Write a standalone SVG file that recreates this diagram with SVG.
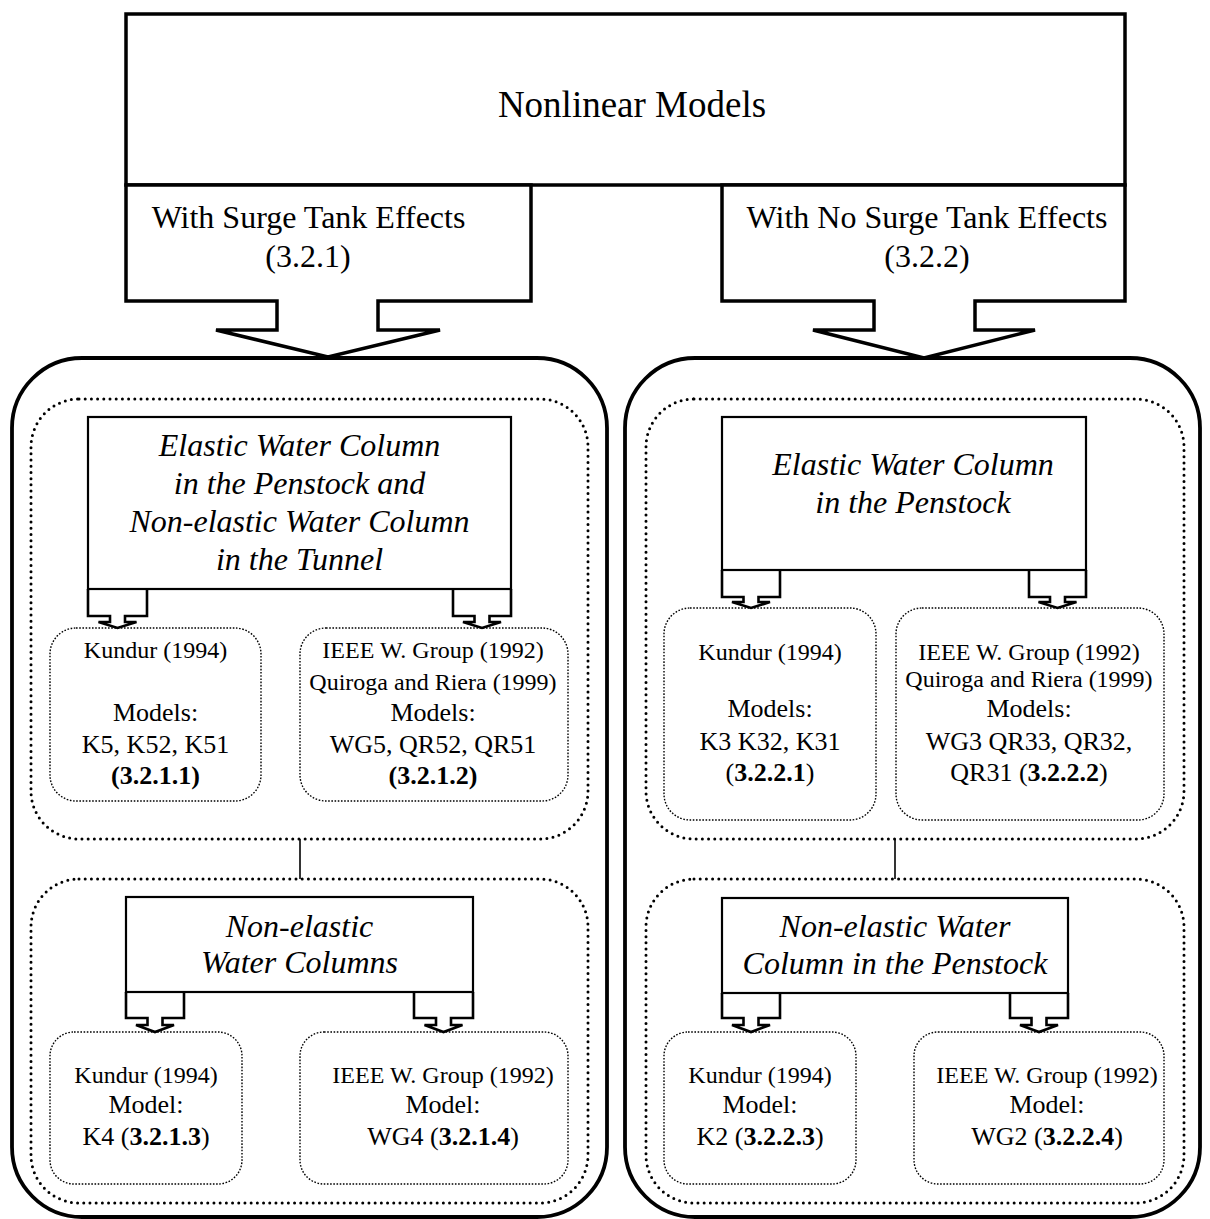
<svg xmlns="http://www.w3.org/2000/svg" width="1210" height="1219" viewBox="0 0 1210 1219">
<style>
text{font-family:"Liberation Serif","Times New Roman",serif;fill:#000;text-anchor:middle}
.thick{fill:#fff;stroke:#000;stroke-width:3.5}
.outer{fill:none;stroke:#000;stroke-width:3.8}
.box{fill:#fff;stroke:#000;stroke-width:2.2}
.cont{fill:none;stroke:#000;stroke-width:3;stroke-dasharray:0 6.2;stroke-linecap:round}
.leaf{fill:none;stroke:#000;stroke-width:1.4;stroke-dasharray:1.6 1.6}
.arr{fill:#fff;stroke:#000;stroke-width:2.6;stroke-linejoin:miter}
.conn{stroke:#000;stroke-width:1.6;fill:none}
.h1{font-size:37px}
.h2{font-size:32px}
.it{font-size:32px;font-style:italic}
.cit{font-size:24px}
.m{font-size:26px}
.b{font-weight:bold}
</style>

<g id="top">
<rect class="thick" x="126" y="14" width="999" height="171"/>
<text class="h1" x="632" y="117">Nonlinear Models</text>
</g>

<g id="with-surge">
<path class="thick" d="M126,185 H531 V301 H378 V330 H440 L328,357 L216,330 H277 V301 H126 Z"/>
<text class="h2" x="308.5" y="228">With Surge Tank Effects</text>
<text class="h2" x="308" y="267">(3.2.1)</text>
</g>

<g id="no-surge">
<path class="thick" d="M722,185 H1125 V301 H975 V330 H1035 L924,358 L813,330 H874 V301 H722 Z"/>
<text class="h2" x="927" y="228">With No Surge Tank Effects</text>
<text class="h2" x="927" y="267">(3.2.2)</text>
</g>

<g id="left-group">
<rect class="outer" x="12" y="358" width="595" height="859" rx="70" ry="70"/>
</g>
<g id="right-group">
<rect class="outer" x="625" y="358" width="575" height="859" rx="70" ry="70"/>
</g>

<g id="left-upper-container">
<rect class="cont" x="31" y="399" width="557" height="440" rx="48" ry="48"/>
</g>
<g id="left-lower-container">
<rect class="cont" x="31" y="879" width="557" height="324" rx="48" ry="48"/>
</g>
<g id="right-upper-container">
<rect class="cont" x="646" y="399" width="538" height="440" rx="48" ry="48"/>
</g>
<g id="right-lower-container">
<rect class="cont" x="646" y="879" width="538" height="324" rx="48" ry="48"/>
</g>

<g id="connectors">
<line class="conn" x1="300" y1="839" x2="300" y2="879"/>
<line class="conn" x1="895" y1="839" x2="895" y2="879"/>
<path class="arr" d="M88,589 V616 H110 V622 H98.5 L117.5,628 L136.5,622 H125 V616 H147 V589"/>
<path class="arr" d="M453,589 V616 H474.5 V622 H463 L482,628 L501,622 H489.5 V616 H511 V589"/>
<path class="arr" d="M722,570 V597 H743.5 V602 H732 L751,608 L770,602 H758.5 V597 H780 V570"/>
<path class="arr" d="M1029,570 V597 H1050 V602 H1038.5 L1057.5,608 L1076.5,602 H1065 V597 H1086 V570"/>
<path class="arr" d="M126,992 V1018 H147.5 V1025 H136 L155,1032 L174,1025 H162.5 V1018 H184 V992"/>
<path class="arr" d="M414,992 V1018 H436 V1025 H424.5 L443.5,1032 L462.5,1025 H451 V1018 H473 V992"/>
<path class="arr" d="M722,993 V1018 H743.5 V1025 H732 L751,1032 L770,1025 H758.5 V1018 H780 V993"/>
<path class="arr" d="M1010,993 V1018 H1031.5 V1025 H1020 L1039,1032 L1058,1025 H1046.5 V1018 H1068 V993"/>
</g>

<g id="lu-box">
<rect class="box" x="88" y="417" width="423" height="172"/>
<text class="it" x="299.5" y="456">Elastic Water Column</text>
<text class="it" x="299.5" y="494">in the Penstock and</text>
<text class="it" x="299.5" y="532">Non-elastic Water Column</text>
<text class="it" x="299.5" y="570">in the Tunnel</text>
</g>

<g id="ru-box">
<rect class="box" x="722" y="417" width="364" height="153"/>
<text class="it" x="913" y="475">Elastic Water Column</text>
<text class="it" x="913" y="513">in the Penstock</text>
</g>

<g id="ll-box">
<rect class="box" x="126" y="897" width="347" height="95"/>
<text class="it" x="299.5" y="937">Non-elastic</text>
<text class="it" x="299.5" y="973">Water Columns</text>
</g>

<g id="rl-box">
<rect class="box" x="722" y="898" width="346" height="95"/>
<text class="it" x="895" y="937">Non-elastic Water</text>
<text class="it" x="895" y="974">Column in the Penstock</text>
</g>

<g id="lu-kundur">
<rect class="leaf" x="50" y="628" width="211" height="173" rx="26" ry="26"/>
<text class="cit" x="155.5" y="658">Kundur (1994)</text>
<text class="m" x="155.5" y="721">Models:</text>
<text class="m" x="155.5" y="753">K5, K52, K51</text>
<text class="m b" x="155.5" y="784">(3.2.1.1)</text>
</g>

<g id="lu-ieee">
<rect class="leaf" x="300" y="628" width="268" height="173" rx="26" ry="26"/>
<text class="cit" x="433" y="658">IEEE W. Group (1992)</text>
<text class="cit" x="433" y="690">Quiroga and Riera (1999)</text>
<text class="m" x="433" y="721">Models:</text>
<text class="m" x="433" y="753">WG5, QR52, QR51</text>
<text class="m b" x="433" y="784">(3.2.1.2)</text>
</g>

<g id="ru-kundur">
<rect class="leaf" x="664" y="608" width="212" height="212" rx="26" ry="26"/>
<text class="cit" x="770" y="660">Kundur (1994)</text>
<text class="m" x="770" y="717">Models:</text>
<text class="m" x="770" y="750">K3 K32, K31</text>
<text class="m" x="770" y="781">(<tspan class="b">3.2.2.1</tspan>)</text>
</g>

<g id="ru-ieee">
<rect class="leaf" x="896" y="608" width="268" height="212" rx="26" ry="26"/>
<text class="cit" x="1029" y="660">IEEE W. Group (1992)</text>
<text class="cit" x="1029" y="687">Quiroga and Riera (1999)</text>
<text class="m" x="1029" y="717">Models:</text>
<text class="m" x="1029" y="750">WG3 QR33, QR32,</text>
<text class="m" x="1029" y="781">QR31 (<tspan class="b">3.2.2.2</tspan>)</text>
</g>

<g id="ll-kundur">
<rect class="leaf" x="50" y="1032" width="192" height="152" rx="24" ry="24"/>
<text class="cit" x="146" y="1083">Kundur (1994)</text>
<text class="m" x="146" y="1113">Model:</text>
<text class="m" x="146" y="1145">K4 (<tspan class="b">3.2.1.3</tspan>)</text>
</g>

<g id="ll-ieee">
<rect class="leaf" x="300" y="1032" width="268" height="152" rx="24" ry="24"/>
<text class="cit" x="443" y="1083">IEEE W. Group (1992)</text>
<text class="m" x="443" y="1113">Model:</text>
<text class="m" x="443" y="1145">WG4 (<tspan class="b">3.2.1.4</tspan>)</text>
</g>

<g id="rl-kundur">
<rect class="leaf" x="664" y="1032" width="192" height="152" rx="24" ry="24"/>
<text class="cit" x="760" y="1083">Kundur (1994)</text>
<text class="m" x="760" y="1113">Model:</text>
<text class="m" x="760" y="1145">K2 (<tspan class="b">3.2.2.3</tspan>)</text>
</g>

<g id="rl-ieee">
<rect class="leaf" x="914" y="1032" width="250" height="152" rx="24" ry="24"/>
<text class="cit" x="1047" y="1083">IEEE W. Group (1992)</text>
<text class="m" x="1047" y="1113">Model:</text>
<text class="m" x="1047" y="1145">WG2 (<tspan class="b">3.2.2.4</tspan>)</text>
</g>
</svg>
